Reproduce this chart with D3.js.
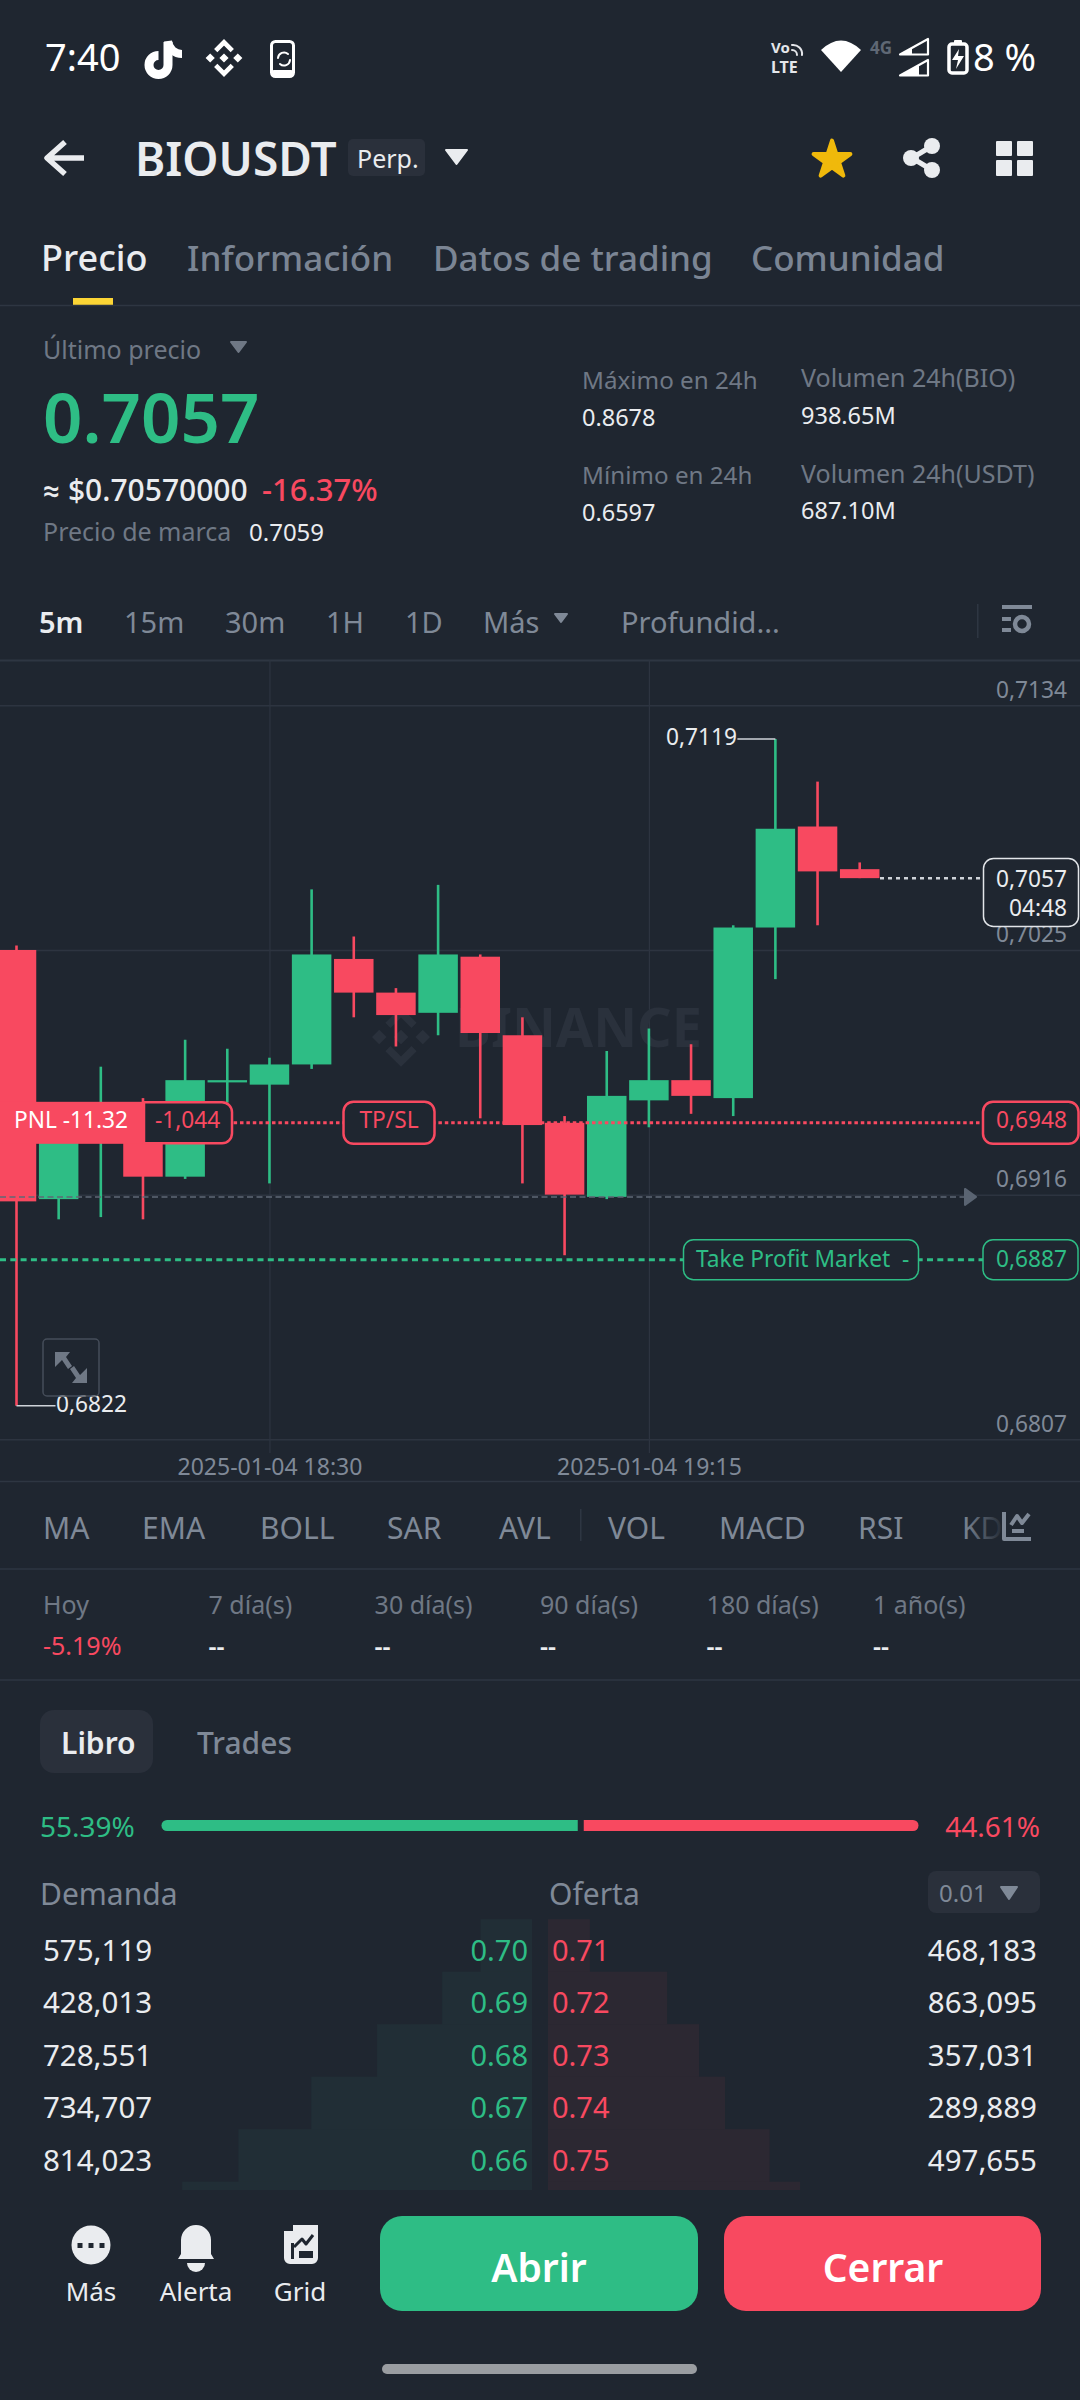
<!DOCTYPE html>
<html><head><meta charset="utf-8">
<style>html,body{margin:0;padding:0;background:#1f2630}svg{display:block}text{font-family:"Noto Sans",Roboto,sans-serif}</style>
<script src="https://cdn.jsdelivr.net/npm/d3@7/dist/d3.min.js"></script>
</head><body><svg id="c" width="1080" height="2400"></svg>
<script>
// ---------- data ----------
const candleMinutes=[0,5,10,15,20,25,30,35,40,45,50,55,60,65,70,75,80,85,90,95,100];
const opens =[.7025,.6914,.6942,.6956,.6924,.6966,.6965,.6974,.7021,.7006,.6997,.7022,.6987,.6948,.6915,.6958,.6967,.6959,.7035,.7080,.7061];
const highs =[.7027,.6951,.6973,.6959,.6985,.6981,.6977,.7052,.7031,.7008,.7054,.7023,.6995,.6951,.6980,.6990,.6983,.7036,.7119,.7100,.7064];
const lows  =[.6822,.6905,.6906,.6905,.6923,.6957,.6921,.6972,.6995,.6982,.6987,.6950,.6921,.6889,.6914,.6946,.6952,.6951,.7012,.7036,.7057];
const closes=[.6913,.6951,.6952,.6924,.6967,.6967,.6974,.7023,.7006,.6996,.7023,.6988,.6947,.6916,.6960,.6967,.6960,.7035,.7079,.7060,.7057];
const priceTicks=[.7134,.7025,.6916,.6807];
const timeTickMinutes=[30,75];
const lastPrice=.7057, entryPrice=.6948, takeProfit=.6887, dashedPrice=.6915, peak=.7119, trough=.6822;
const tabs=["Precio","Información","Datos de trading","Comunidad"];
const intervals=["5m","15m","30m","1H","1D","Más","Profundid..."];
const indicators=["MA","EMA","BOLL","SAR","AVL","VOL","MACD","RSI","KD"];
const periods=["Hoy","7 día(s)","30 día(s)","90 día(s)","180 día(s)","1 año(s)"];
const periodValues=["-5.19%","--","--","--","--","--"];
const bidPrices=["0.70","0.69","0.68","0.67","0.66","0.65"];
const askPrices=["0.71","0.72","0.73","0.74","0.75","0.76"];
const bidVolumes=[575119,428013,728551,734707,814023,628000];
const askVolumes=[468183,863095,357031,289889,497655,342000];
const bidShare=55.39, askShare=44.61;

// ---------- palette ----------
const BG="#1f2630",GREEN="#2ebd85",RED="#f84960",WHITE="#eaecef",MUTED="#7f8997",DIM="#6f7885",LINE="#2e3642",GRID="#2d3440";
const svg=d3.select("#c");
svg.append("rect").attr("width",1080).attr("height",2400).attr("fill",BG);
const defs=svg.append("defs");
const g=svg.append("g");
function T(x,y,s,size,fill,o={}){return (o.p||g).append("text").attr("x",x).attr("y",y).text(s).attr("font-size",size).attr("fill",fill)
  .attr("font-weight",o.w||400).attr("text-anchor",o.a||"start").attr("font-family",o.f||null);}
function P(d,fill,o={}){return (o.p||g).append("path").attr("d",d).attr("fill",fill).attr("stroke",o.s||"none").attr("stroke-width",o.sw||0)
  .attr("stroke-linejoin","round").attr("stroke-linecap",o.cap||"round");}
function R(x,y,w,h,r,fill,o={}){return (o.p||g).append("rect").attr("x",x).attr("y",y).attr("width",w).attr("height",h).attr("rx",r).attr("fill",fill)
  .attr("stroke",o.s||"none").attr("stroke-width",o.sw||0);}
function tri(x0,x1,y0,y1,fill){return P(`M${x0} ${y0}H${x1}L${(x0+x1)/2} ${y1}Z`,fill,{s:fill,sw:2});}
function binanceLogo(p,cx,cy,k,fill){
  const q=p.append("g").attr("transform",`translate(${cx},${cy}) scale(${k})`);
  q.append("path").attr("d","M0 -5L5 0L0 5L-5 0Z M-15 -5L-10 0L-15 5L-20 0Z M15 -5L20 0L15 5L10 0Z").attr("fill",fill);
  q.append("path").attr("d","M-9 -8L0 -17L9 -8 M-9 8L0 17L9 8").attr("fill","none").attr("stroke",fill).attr("stroke-width",5);
}

// ---------- status bar ----------
T(45,71,"7:40",38,"#fff",{f:"Inter",w:400});
P("M168 42V65A9.5 9.5 0 1 1 158.500 55.500",  "none",{s:"#fff",sw:9,cap:"butt"});
P("M168 41C169 49 175 54 182 54","none",{s:"#fff",sw:8,cap:"butt"});
binanceLogo(g,224,58,0.92,"#fff");
R(271.500,41.500,22,35,4,"none",{s:"#fff",sw:3});R(271,70,23,7,3,"#fff");
P("M278 58a6 6 0 0 1 10 -4M290 60a6 6 0 0 1 -10 4","none",{s:"#fff",sw:2});
T(771,53,"Vo",15,"#e4e6ea",{w:700,f:"Roboto"});T(771,73,"LTE",16,"#e4e6ea",{w:700,f:"Roboto"});
P("M792 45a9 9 0 0 1 10 10M792 50a5 5 0 0 1 5 5","none",{s:"#e4e6ea",sw:2});
P("M821 50Q841 31 861 50L841 72Z","#fff");
T(870,54,"4G",17,"#5f6875",{w:700,f:"Roboto"});
P("M900 54.500L928 39V54.500Z","none",{s:"#fff",sw:2.2});P("M900 54.500L912 47.800V54.500Z","#fff");
P("M900 75.500L928 60V75.500Z","none",{s:"#fff",sw:2.2});P("M900 75.500L919 65V75.500Z","#fff");
R(949,44,18,29,3,"none",{s:"#fff",sw:3.5});R(954,40,8,4,1,"#fff");P("M959 49L952 60H958L956 69L964 56H958Z","#fff");
T(973,71,"8 %",38,"#fff",{f:"Inter",w:400});

// ---------- header ----------
P("M84 158H48M65 142L47 158L65 174","none",{s:WHITE,sw:5.5,cap:"butt"});
T(135,175.5,"BIOUSDT",46,WHITE,{w:600});
R(348,139,77,37,5,"#2a303b");T(357,168,"Perp.",25,WHITE);
tri(446,467,150,164,WHITE);
P(d3.symbol(d3.symbolStar,420)(),"#f0b90b",{s:"#f0b90b",sw:4}).attr("transform","translate(832,160)");
P("M912 158L932 146M912 158L932 170","none",{s:WHITE,sw:5});
[[911,158],[932,146],[932,170]].forEach(c=>g.append("circle").attr("cx",c[0]).attr("cy",c[1]).attr("r",8).attr("fill",WHITE));
[[996,141],[1017,141],[996,160],[1017,160]].forEach(c=>R(c[0],c[1],16,c[1]===141?15:16,1,WHITE));

// tabs
const tabX=[41,187,433,751];
tabs.forEach((s,i)=>T(tabX[i],270.5,s,i?35:36,i?"#7b8594":WHITE,{w:500}));
R(73,298,40,7,0,"#fcd535");
g.append("line").attr("x1",0).attr("x2",1080).attr("y1",305.500).attr("y2",305.500).attr("stroke",LINE).attr("stroke-width",1.5);

// ---------- price block ----------
T(43,359,"Último precio",25,DIM);tri(231,246,342,352,DIM);
T(43,443,"0.7057",69,GREEN,{w:600});
T(43,501,"≈ $0.70570000",30,WHITE,{w:500});T(262,501,"-16.37%",31,RED,{w:500});
T(43,541,"Precio de marca",25,DIM);T(249,541,"0.7059",24,WHITE);
T(582,388.500,"Máximo en 24h",24.2,DIM);T(582,425.500,"0.8678",23.5,WHITE);
T(582,483.500,"Mínimo en 24h",24.2,DIM);T(582,520.500,"0.6597",23.5,WHITE);
T(801,387,"Volumen 24h(BIO)",25,DIM);T(801,423.500,"938.65M",23.5,WHITE);
T(801,482.500,"Volumen 24h(USDT)",25,DIM);T(801,518.500,"687.10M",23.5,WHITE);

// intervals
const intervalX=[39,124,225,326,405,483,621];
intervals.forEach((s,i)=>T(intervalX[i],632.500,s,29,i?MUTED:WHITE,{w:i?400:600}));
tri(555,567,614,622,MUTED);
R(977,604,1.5,34,0,LINE);
R(1002,605,30,4,0,MUTED);R(1002,617,9,4,0,MUTED);R(1002,628,9,4,0,MUTED);
g.append("circle").attr("cx",1022).attr("cy",624).attr("r",7).attr("fill","none").attr("stroke",MUTED).attr("stroke-width",4.5);

// ---------- chart ----------
const t0=new Date(2025,0,4,18,0);
const times=candleMinutes.map(m=>d3.timeMinute.offset(t0,m));
const x=d3.scaleTime().domain([times[0],times[20]]).range([16.5,859.7]);
const y=d3.scaleLinear().domain([.6807,.7134]).range([1439.3,705.3]);
const es=d3.formatLocale({decimal:",",thousands:".",grouping:[3],currency:["",""]});
const fp=es.format(".4f");
const bodyW=39.5;

g.append("line").attr("x1",0).attr("x2",1080).attr("y1",660.500).attr("y2",660.500).attr("stroke",LINE).attr("stroke-width",2);
g.append("line").attr("x1",0).attr("x2",1080).attr("y1",1481.500).attr("y2",1481.500).attr("stroke",LINE).attr("stroke-width",1.5);

const yAxis=g.append("g").attr("transform","translate(1080,0)")
  .call(d3.axisLeft(y).tickValues(priceTicks).tickFormat(fp).tickSize(1080));
yAxis.select(".domain").remove();
yAxis.selectAll("line").attr("stroke",GRID).attr("stroke-width",1.5);
yAxis.selectAll("text").attr("x",-13).attr("dy",null).attr("y",-8.3).attr("text-anchor","end").attr("font-size",22.7).attr("fill",MUTED).attr("font-family",null);

const xAxis=g.append("g").attr("transform","translate(0,1453)")
  .call(d3.axisBottom(x).tickValues(timeTickMinutes.map(m=>d3.timeMinute.offset(t0,m))).tickFormat(d3.timeFormat("%Y-%m-%d %H:%M")).tickSizeOuter(0).tickSizeInner(-793));
xAxis.select(".domain").remove();
xAxis.selectAll("line").attr("stroke",GRID).attr("stroke-width",1.2);
xAxis.selectAll("text").attr("y",22).attr("dy",null).attr("font-size",23).attr("fill",MUTED).attr("font-family",null);

// watermark
binanceLogo(g,401,1037,1.45,"#2a313c");
T(455,1047,"BINANCE",54,"#2a313c",{w:700});

// candles
const rows=times.map((t,i)=>({t,o:opens[i],h:highs[i],l:lows[i],c:closes[i]}));
const col=d=>d.c>=d.o?GREEN:RED;
const cg=g.append("g").selectAll("g").data(rows).join("g");
cg.append("line").attr("x1",d=>x(d.t)).attr("x2",d=>x(d.t)).attr("y1",d=>y(d.h)).attr("y2",d=>y(d.l)).attr("stroke",col).attr("stroke-width",2.6);
cg.append("rect").attr("x",d=>x(d.t)-bodyW/2).attr("width",bodyW)
  .attr("y",d=>y(Math.max(d.o,d.c))).attr("height",d=>Math.max(2,Math.abs(y(d.o)-y(d.c)))).attr("fill",col);

// peak / trough labels
const peakRow=rows[highs.indexOf(peak)], lowRow=rows[lows.indexOf(trough)];
P(`M${x(peakRow.t)-38} ${y(peak)}H${x(peakRow.t)}`,"none",{s:"#cfd3d9",sw:1.5,cap:"butt"});
T(666,744.500,fp(peak),22.7,WHITE);
P(`M${x(lowRow.t)} ${y(trough)}H${x(lowRow.t)+39}`,"none",{s:"#cfd3d9",sw:1.5,cap:"butt"});
T(56,1411.500,fp(trough),22.7,WHITE);

// gray dashed position line
g.append("line").attr("x1",0).attr("x2",964).attr("y1",y(dashedPrice)).attr("y2",y(dashedPrice)).attr("stroke","#5f6876").attr("stroke-width",1.5).attr("stroke-dasharray","6 3.5");
P(`M965 ${y(dashedPrice)-8}L976 ${y(dashedPrice)}L965 ${y(dashedPrice)+8}Z`,"#5a6472",{s:"#5a6472",sw:2});

// last price
g.append("line").attr("x1",880).attr("x2",983).attr("y1",y(lastPrice)).attr("y2",y(lastPrice)).attr("stroke","#cfd3d9").attr("stroke-width",2.5).attr("stroke-dasharray","4 4");
R(983.5,858.500,95,68,10,BG,{s:"#e2e5e9",sw:1.5});
T(1067,886.500,fp(lastPrice),22.7,WHITE,{a:"end"});T(1067,915.500,"04:48",22.7,WHITE,{a:"end"});

// entry line
const ye=y(entryPrice);
g.append("line").attr("x1",144).attr("x2",983).attr("y1",ye).attr("y2",ye).attr("stroke",RED).attr("stroke-width",3).attr("stroke-dasharray","3.5 2.9");
R(0,ye-21,150,42,0,RED);
P(`M144 ${ye-20.5}H222a10 10 0 0 1 10 10V${ye+10.5}a10 10 0 0 1 -10 10H144Z`,BG,{s:RED,sw:2.5});
T(14,ye+5,"PNL -11.32",22.7,"#fff",{w:400});
T(155,ye+5,"-1,044",22.7,RED);
R(343.5,ye-21,91,42,10,BG,{s:RED,sw:2.5});T(389,ye+5.500,"TP/SL",22.7,RED,{a:"middle"});
R(983,ye-21,95.5,42,10,BG,{s:RED,sw:2.5});T(1067,ye+5.500,fp(entryPrice),22.7,RED,{a:"end"});

// take profit line
const yt=y(takeProfit);
g.append("line").attr("x1",0).attr("x2",983).attr("y1",yt).attr("y2",yt).attr("stroke",GREEN).attr("stroke-width",3).attr("stroke-dasharray","6 4.3");
R(683.5,yt-20,235,40,10,BG,{s:GREEN,sw:1.5});T(696,yt+7.500,"Take Profit Market",22.7,GREEN);T(902,yt+7.500,"-",22.7,GREEN);
R(983,yt-20,95,40,10,BG,{s:GREEN,sw:1.5});T(1067,yt+7.500,fp(takeProfit),22.7,GREEN,{a:"end"});

// expand button
R(43,1339,56,57,4,"none",{s:"#454d59",sw:1.5});
P("M55 1352H70L66 1357L72 1366L68 1369L62 1360L55 1367Z","#6f7885");
P("M87 1383H72L76 1378L70 1369L74 1366L80 1375L87 1368Z","#6f7885");

// ---------- indicators ----------
const indX=[43,142,260,387,499,608,719,858,962];
defs.append("linearGradient").attr("id","fade").attr("x1",0).attr("x2",1).selectAll("stop")
  .data([[0,MUTED,1],[1,MUTED,0.05]]).join("stop").attr("offset",d=>d[0]).attr("stop-color",d=>d[1]).attr("stop-opacity",d=>d[2]);
indicators.forEach((s,i)=>T(indX[i],1538.500,s,30,i===8?"url(#fade)":MUTED));
R(580,1509,1.5,32,0,LINE);
P("M1004 1512V1539H1031","none",{s:MUTED,sw:4,cap:"butt"});
P("M1011 1525L1017 1516L1022 1523L1029 1514","none",{s:MUTED,sw:4,cap:"butt"});R(1012,1529,12,4,0,MUTED);
g.append("line").attr("x1",0).attr("x2",1080).attr("y1",1569).attr("y2",1569).attr("stroke",LINE).attr("stroke-width",1.5);

const perX=[43,208.5,374.6,540,706.6,873];
periods.forEach((s,i)=>T(perX[i],1614,s,25,DIM));
periodValues.forEach((s,i)=>T(perX[i],1655,s,25,i?WHITE:RED,{w:i?600:400}));
g.append("line").attr("x1",0).attr("x2",1080).attr("y1",1680).attr("y2",1680).attr("stroke",LINE).attr("stroke-width",1.5);

// ---------- order book ----------
R(40,1710,113,63,14,"#2a303b");
T(61,1754,"Libro",30,WHITE,{w:600});T(197,1754,"Trades",30,MUTED,{w:500});
const share=d3.scaleLinear().domain([0,bidShare+askShare]).range([162,918]);
T(40,1837,bidShare.toFixed(2)+"%",28,GREEN);T(1040,1837,askShare.toFixed(2)+"%",28,RED,{a:"end"});
P(`M${share(0)+5} 1820H${share(bidShare)-3}V1831H${share(0)+5}a5 5 0 0 1 0 -11Z`,GREEN);
P(`M${share(bidShare)+3} 1820H${share(100)-5}a5.500 5.500 0 0 1 0 11H${share(bidShare)+3}Z`,RED);

T(40,1905,"Demanda",30,MUTED);T(549,1905,"Oferta",30,MUTED);
R(928,1871,112,42,8,"#2a303b");T(939,1902,"0.01",24,MUTED);tri(1001,1017,1887,1899,MUTED);

const cum=a=>{let s=0;return a.map(v=>s+=v);};
const rowY=d3.scaleBand().domain(d3.range(6)).range([1919.2,1919.2+6*52.5]);
const depth=d3.scaleLinear().domain([0,1e6]).range([0,89.5]);
defs.append("clipPath").attr("id","bookClip").append("rect").attr("x",0).attr("y",1900).attr("width",1080).attr("height",290);
const book=g.append("g").attr("clip-path","url(#bookClip)");
book.selectAll(".b").data(cum(bidVolumes)).join("rect").attr("x",d=>532-depth(d)).attr("width",d=>depth(d))
  .attr("y",(d,i)=>rowY(i)).attr("height",rowY.bandwidth()+.5).attr("fill","#212e36");
book.selectAll(".a").data(cum(askVolumes)).join("rect").attr("x",548).attr("width",d=>depth(d))
  .attr("y",(d,i)=>rowY(i)).attr("height",rowY.bandwidth()+.5).attr("fill","#2c2832");
const fv=d3.format(",");
d3.range(5).forEach(i=>{
  const b=rowY(i)+41.500;
  T(43,b,fv(bidVolumes[i]),29.5,WHITE,{w:400});
  T(528,b,bidPrices[i],29,GREEN,{a:"end"});
  T(552,b,askPrices[i],29,RED);
  T(1037,b,fv(askVolumes[i]),29.5,WHITE,{a:"end",w:400});
});

// ---------- bottom bar ----------
g.append("circle").attr("cx",91).attr("cy",2245).attr("r",19.5).attr("fill",WHITE);
[80,91,102].forEach(c=>R(c-2.5,2243,5,5,0,BG));
T(91,2301,"Más",26,WHITE,{a:"middle"});
P("M196 2225a15 15 0 0 1 15 15V2254L214 2259H178L181 2254V2240a15 15 0 0 1 15 -15Z",WHITE);
P("M187 2263H205a9 9 0 0 1 -18 0Z",WHITE);
T(196,2301,"Alerta",26,WHITE,{a:"middle"});
P("M284 2240V2231H293V2225H318V2258a6 6 0 0 1 -6 6H290a6 6 0 0 1 -6 -6Z",WHITE);
P("M294 2247L302 2239L306 2244L313 2235","none",{s:BG,sw:3,cap:"butt"});R(299,2251,14,7,0,BG);R(291,2243,3,16,0,BG);
T(300,2301,"Grid",26,WHITE,{a:"middle"});
R(380,2216,318,95,22,GREEN);T(539,2282,"Abrir",39,"#fff",{a:"middle",w:600});
R(724,2216,317,95,22,RED);T(883,2282,"Cerrar",39,"#fff",{a:"middle",w:600});
R(382,2364,315,10,5,"#9a9da1");
</script></body></html>
